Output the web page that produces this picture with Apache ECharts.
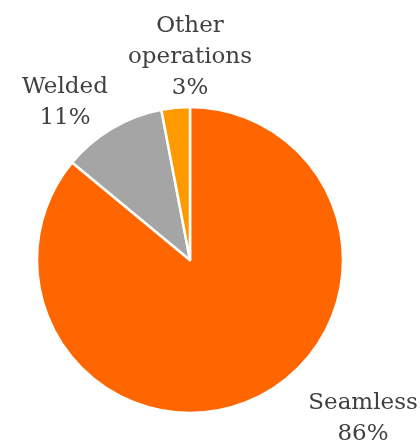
<!DOCTYPE html>
<html><head><meta charset="utf-8">
<script src="https://cdn.jsdelivr.net/npm/echarts@6/dist/echarts.min.js"></script>
<style>html,body{margin:0;padding:0;background:#fff}#c{width:420px;height:444px}</style>
</head><body><div id="c"></div>
<script>
const categories = ['Seamless', 'Welded', 'Other operations'];
const values = [86, 11, 3];
const colors = ['#FF6600', '#A5A5A5', '#FF9900'];
const labelPos = [[363, 419], [65, 103], [190, 57]];

const chart = echarts.init(document.getElementById('c'));
chart.setOption({
  animation: false,
  series: [{
    type: 'pie',
    center: [190, 260],
    radius: [0, 153],
    startAngle: 90,
    clockwise: true,
    avoidLabelOverlap: false,
    itemStyle: { borderColor: '#fff', borderWidth: 2.5 },
    label: {
      show: true,
      formatter: p => p.name.replace(' ', '\n') + '\n' + p.value + '%',
      fontFamily: 'DejaVu Serif',
      fontSize: 23,
      lineHeight: 31,
      color: '#404040',
      align: 'center'
    },
    labelLine: { show: false },
    labelLayout: p => ({ x: labelPos[p.dataIndex][0], y: labelPos[p.dataIndex][1], align: 'center', verticalAlign: 'middle' }),
    data: categories.map((c, i) => ({ name: c, value: values[i], itemStyle: { color: colors[i] } }))
  }]
});
</script></body></html>
